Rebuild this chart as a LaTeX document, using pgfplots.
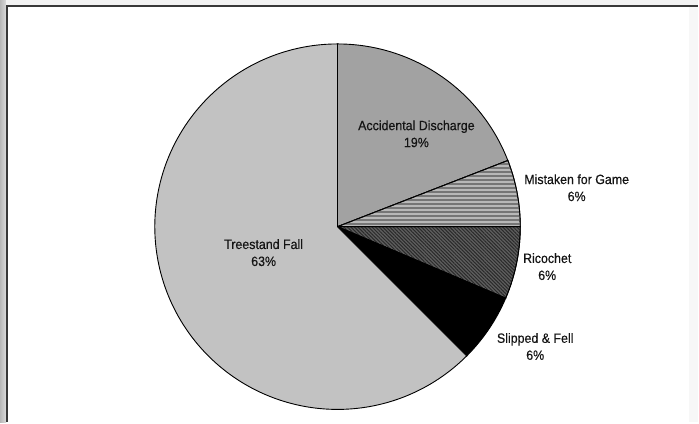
\documentclass[border=0pt]{standalone}
\usepackage{pgfplots}
\pgfplotsset{compat=1.18}
\usepackage{fontspec}
\setmainfont{Liberation Sans}[FakeStretch=0.92, FakeBold=0.35]
\usetikzlibrary{patterns.meta}
\definecolor{treecol}{HTML}{C2C2C2}
\definecolor{acccol}{HTML}{A2A2A2}
\definecolor{mistbase}{HTML}{B8B8B8}
\definecolor{mistline}{HTML}{767676}
\definecolor{ricbase}{HTML}{5E5E5E}
\definecolor{ricline}{HTML}{2A2A2A}
\definecolor{slipcol}{HTML}{000000}
\definecolor{txtcol}{HTML}{141414}
% shares of the pie, in percent
\def\pAcc{19.1}
\def\pMist{5.9}
\def\pRic{6.4}
\def\pSlip{6.1}
\def\pTree{62.5}
\pgfmathsetmacro{\aA}{90}
\pgfmathsetmacro{\aB}{\aA-3.6*\pAcc}
\pgfmathsetmacro{\aC}{\aB-3.6*\pMist}
\pgfmathsetmacro{\aD}{\aC-3.6*\pRic}
\pgfmathsetmacro{\aE}{\aD-3.6*\pSlip}
\pgfmathsetmacro{\aF}{\aE-3.6*\pTree}
\begin{document}
\begin{tikzpicture}
\begin{axis}[
  hide axis, scale only axis,
  width=699pt, height=423pt,
  xmin=0, xmax=699, ymin=0, ymax=423,
  clip=false,
  variable=\t, samples=90,
]
% background and frame
\fill[white] (axis cs:0,0) rectangle (axis cs:699,423);
\fill[left color=black!28, right color=black!14] (axis cs:0,0) rectangle (axis cs:6,423);
\fill[black!5] (axis cs:6,417) rectangle (axis cs:699,423);
\fill[black!3] (axis cs:690,0) rectangle (axis cs:699,417);
\draw[black!78, line width=2pt] (axis cs:7,0) -- (axis cs:7,417) -- (axis cs:699,417);

% slices
\addplot[draw=black, line width=0.9pt, fill=acccol, domain=\aB:\aA]
  ({338+183*cos(\t)},{196+183*sin(\t)}) -- (axis cs:338,196) -- cycle;
\addplot[draw=black, line width=0.9pt, fill=mistbase,
  postaction={pattern={Lines[angle=0, distance=4pt, line width=1.6pt]}, pattern color=mistline},
  domain=\aC:\aB]
  ({338+183*cos(\t)},{196+183*sin(\t)}) -- (axis cs:338,196) -- cycle;
\addplot[draw=black, line width=0.9pt, fill=ricbase,
  postaction={pattern={Lines[angle=-45, distance=2.5pt, line width=1pt]}, pattern color=ricline},
  domain=\aD:\aC]
  ({338+183*cos(\t)},{196+183*sin(\t)}) -- (axis cs:338,196) -- cycle;
\addplot[draw=black, line width=0.9pt, fill=slipcol, domain=\aE:\aD]
  ({338+183*cos(\t)},{196+183*sin(\t)}) -- (axis cs:338,196) -- cycle;
\addplot[draw=black, line width=0.9pt, fill=treecol, domain=\aF:\aE, samples=200]
  ({338+183*cos(\t)},{196+183*sin(\t)}) -- (axis cs:338,196) -- cycle;

% labels
\tikzset{lbl/.style={align=center, inner sep=0pt, text=txtcol,
  font=\fontsize{13.5}{17}\selectfont}}
\node[lbl] at (axis cs:417,289) {Accidental Discharge\\19\%};
\node[lbl] at (axis cs:577.5,235) {Mistaken for Game\\6\%};
\node[lbl] at (axis cs:548,156) {Ricochet\\6\%};
\node[lbl] at (axis cs:536,76) {Slipped \& Fell\\6\%};
\node[lbl] at (axis cs:264,170) {Treestand Fall\\63\%};
\end{axis}
\end{tikzpicture}
\end{document}
